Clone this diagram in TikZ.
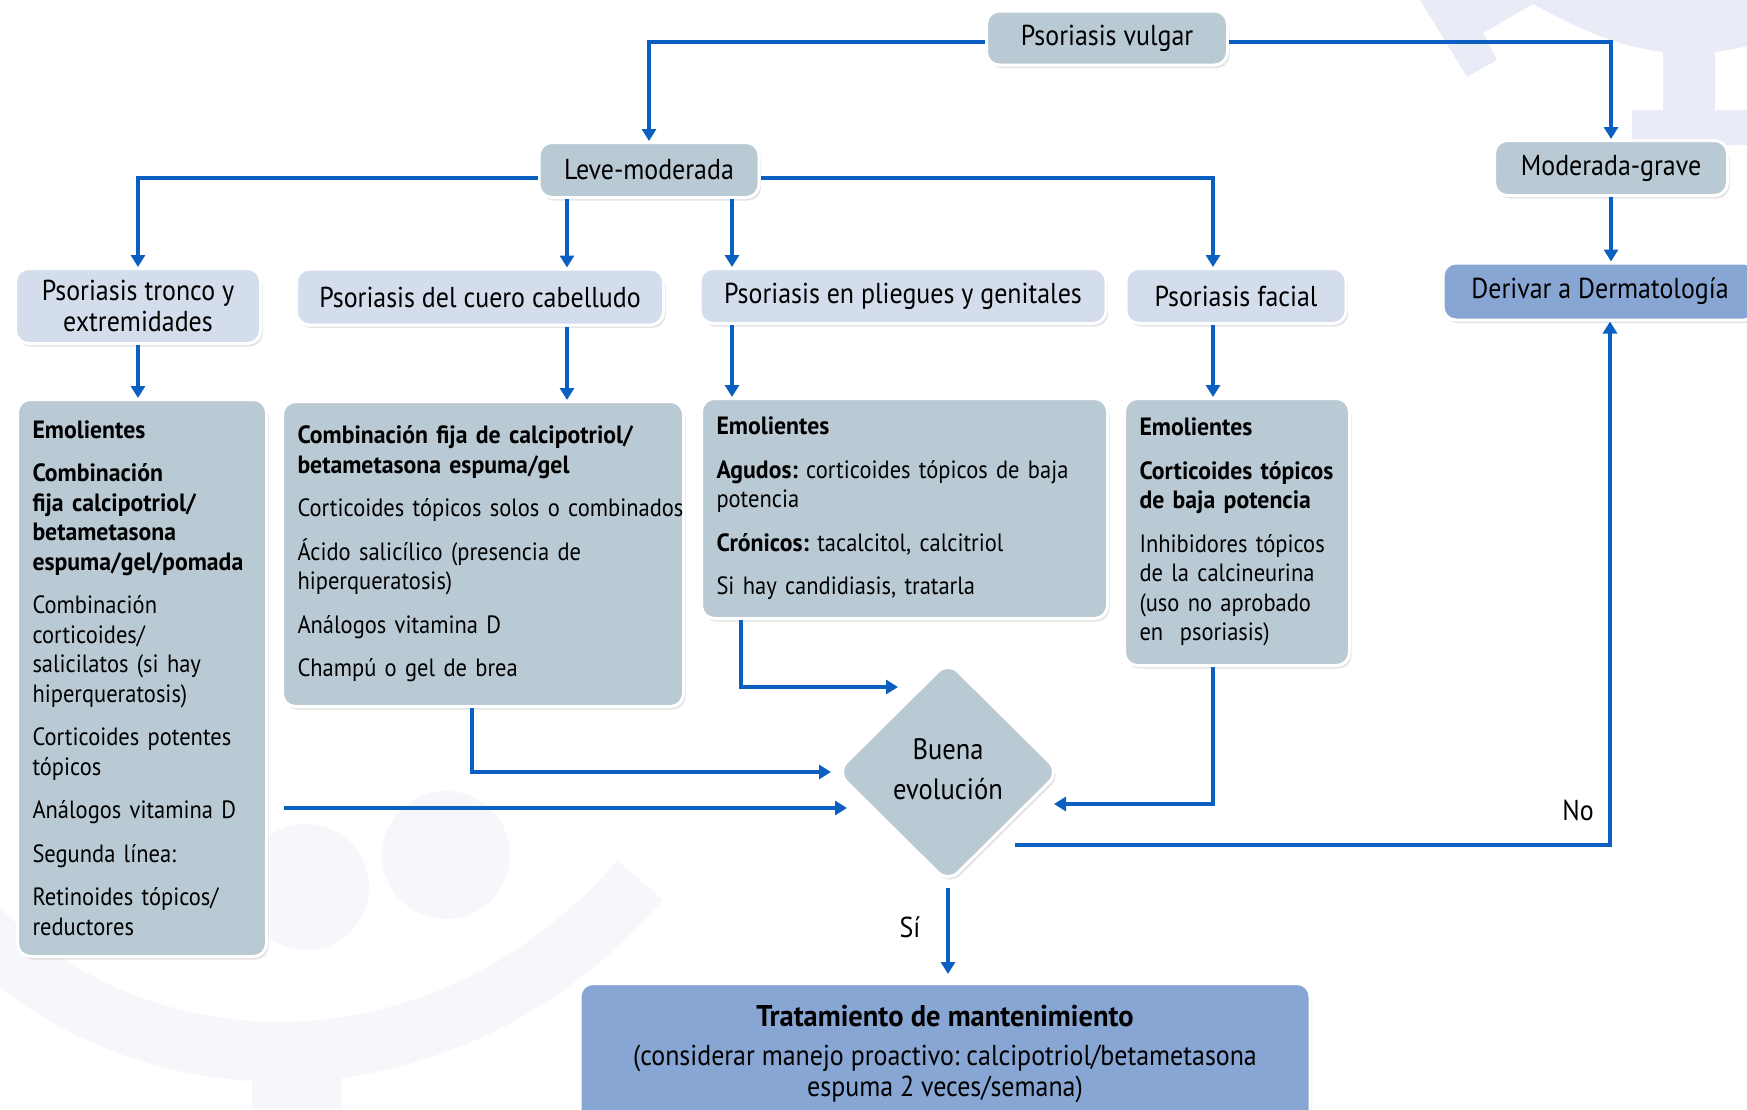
\documentclass[tikz,border=0pt]{standalone}
\usepackage{fontspec}
\setmainfont{PT Sans}[FakeStretch=0.9, BoldFeatures={FakeStretch=0.95}]
\usetikzlibrary{arrows.meta,shapes.geometric,shadows,calc}
\definecolor{lineblue}{HTML}{0B5FC1}
\definecolor{boxgray}{HTML}{B9CAD4}
\definecolor{boxlight}{HTML}{D3DDEB}
\definecolor{boxdark}{HTML}{87A6D3}
\definecolor{wmark}{HTML}{E9ECF6}
\definecolor{wfaint}{HTML}{F6F7FA}
\frenchspacing
\newcommand\nb[1]{\mbox{#1}}
\newcommand\hfont{\fontsize{28.8}{31}\selectfont\frenchspacing}
\newcommand\lfont{\fontsize{25}{29.5}\selectfont\frenchspacing}
\newcommand\tfont{\fontsize{30}{31}\selectfont\bfseries}
\tikzset{
 basebox/.style={draw=white, line width=3pt, rounded corners=13pt,
   drop shadow={shadow xshift=2pt, shadow yshift=-3pt, opacity=0.18, fill=black!60},
   text=black, inner sep=0pt},
 headbox/.style={basebox, fill=boxgray, font=\hfont, align=center},
 subbox/.style={basebox, fill=boxlight, font=\hfont, align=center},
 listbox/.style={basebox, fill=boxgray, font=\lfont, align=left, inner xsep=15pt, anchor=north west},
 darkbox/.style={basebox, fill=boxdark, font=\hfont, align=center},
 conn/.style={draw=lineblue, line width=3.1pt},
 arr/.style={conn, -{Triangle[width=14pt,length=12pt]}},
 lbl/.style={font=\hfont, inner sep=0pt},
}
\begin{document}
\begin{tikzpicture}[x=1pt,y=-1pt]
\useasboundingbox (0,0) rectangle (1747,1109);
\clip (0,0) rectangle (1747,1109);
% watermarks
\fill[wmark] (1420,0) -- (1467,77) -- (1497,60) -- (1483,33) -- (1533,4)
  .. controls (1580,30) and (1620,47) .. (1663,52) -- (1663,110) -- (1632,110)
  -- (1632,145) -- (1747,145) -- (1747,110) -- (1715,110) -- (1715,52)
  .. controls (1728,50) and (1740,48) .. (1747,46) -- (1747,0) -- cycle;
\fill[wfaint] (446,855) circle (64);
\fill[wfaint] (306,887) circle (63);
\draw[wfaint, line width=60pt] (-20,930) .. controls (150,1100) and (450,1100) .. (640,880);
\fill[wfaint] (252,1063) rectangle (342,1109);

% nodes
\node[headbox, minimum width=241, minimum height=54] (vulgar) at (1107,38) {Psoriasis vulgar};
\node[headbox, minimum width=220, minimum height=55] (leve) at (649,170) {Leve-moderada};
\node[headbox, minimum width=233, minimum height=55] (modgrave) at (1611,168) {Moderada-grave};
\node[darkbox, minimum width=314, minimum height=57] (derivar) at (1600,291.5) {Derivar a Dermatología};

\node[subbox, minimum width=245, minimum height=75] (tronco) at (138,306) {Psoriasis tronco y\\extremidades};
\node[subbox, minimum width=367, minimum height=56] (cuero) at (480,297) {Psoriasis del cuero cabelludo};
\node[subbox, minimum width=406, minimum height=55] (pliegues) at (903,296) {Psoriasis en pliegues y genitales};
\node[subbox, minimum width=220, minimum height=55] (facial) at (1236,296) {Psoriasis facial};

\node[listbox, minimum width=249, minimum height=557, text width=219] (trL) at (16,398) {%
\nb{\textbf{Emolientes}}\\[14pt]
\nb{\textbf{Combinación}}\\\nb{\textbf{fija calcipotriol/}}\\\nb{\textbf{betametasona}}\\\nb{\textbf{espuma/gel/pomada}}\\[14pt]
\nb{Combinación}\\\nb{corticoides/}\\\nb{salicilatos (si hay}\\\nb{hiperqueratosis)}\\[14pt]
\nb{Corticoides potentes}\\\nb{tópicos}\\[14pt]
\nb{Análogos vitamina D}\\[14pt]
\nb{Segunda línea:}\\[14pt]
\nb{Retinoides tópicos/}\\\nb{reductores}};

\node[listbox, minimum width=401, minimum height=305, text width=371] (cuL) at (281,400) {%
\nb{\textbf{Combinación fija de calcipotriol/}}\\\nb{\textbf{betametasona espuma/gel}}\\[14pt]
\nb{Corticoides tópicos solos o combinados}\\[14pt]
\nb{Ácido salicílico (presencia de}\\\nb{hiperqueratosis)}\\[14pt]
\nb{Análogos vitamina D}\\[14pt]
\nb{Champú o gel de brea}};

\node[listbox, minimum width=406, minimum height=220, text width=376] (plL) at (700,397) {%
\nb{\textbf{Emolientes}}\\[14pt]
\nb{\textbf{Agudos:} corticoides tópicos de baja}\\\nb{potencia}\\[14pt]
\nb{\textbf{Crónicos:} tacalcitol, calcitriol}\\[14pt]
\nb{Si hay candidiasis, tratarla}};

\node[listbox, minimum width=225, minimum height=267, text width=195] (faL) at (1123,397) {%
\nb{\textbf{Emolientes}}\\[14pt]
\nb{\textbf{Corticoides tópicos}}\\\nb{\textbf{de baja potencia}}\\[14pt]
\nb{Inhibidores tópicos}\\\nb{de la calcineurina}\\\nb{(uso no aprobado}\\\nb{en\ \ psoriasis)}};

\node[basebox, shape=diamond, fill=boxgray, minimum width=224, minimum height=222, rounded corners=14pt,
  font=\fontsize{29.5}{40}\selectfont, align=center] (diam) at (948,772) {\raisebox{5pt}{Buena}\\\raisebox{5pt}{evolución}};

\node[darkbox, minimum width=730, minimum height=140, anchor=north] (trat) at (945,982)
 {{\tfont Tratamiento de mantenimiento}\\[8pt](considerar manejo proactivo: calcipotriol/betametasona\\espuma 2 veces/semana)};

\node[lbl] (no) at (1578,810) {No};
\node[lbl] (si) at (910,927) {Sí};

% helper coordinates
\coordinate (xcu) at (567,0);
\coordinate (xpl) at (732,0);
\coordinate (xfa) at (1213,0);
\coordinate (xpl2) at (741,0);
\coordinate (xcu3) at (472,0);
\coordinate (xno) at (1610,0);
\coordinate (tpl) at (898,687);
\coordinate (tcu) at (831,772);
\coordinate (ttr) at (847,808);
\coordinate (str) at (284,808);
\coordinate (tfa) at (1054,804);
\coordinate (sno) at (1015,845);

% connectors
\draw[arr] ([yshift=-4pt]vulgar.west) -| (leve.north);
\draw[arr] ([yshift=-4pt]vulgar.east) -| (modgrave.north);
\draw[arr] ([yshift=-8pt]leve.west) -| (tronco.north);
\draw[arr] (leve.south -| xcu) -- (cuero.north -| xcu);
\draw[arr] (leve.south -| xpl) -- (pliegues.north -| xpl);
\draw[arr] ([yshift=-8pt]leve.east) -| (facial.north -| xfa);
\draw[arr] (modgrave.south) -- (modgrave.south |- derivar.north);

\draw[arr] (tronco.south) -- (tronco.south |- trL.north);
\draw[arr] (cuero.south -| xcu) -- (cuL.north -| xcu);
\draw[arr] (pliegues.south -| xpl) -- (plL.north -| xpl);
\draw[arr] (facial.south -| xfa) -- (faL.north -| xfa);

\draw[arr] (plL.south -| xpl2) |- (tpl);
\draw[arr] (cuL.south -| xcu3) |- (tcu);
\draw[arr] (str) -- (ttr);
\draw[arr] (faL.south -| xfa) |- (tfa);
\draw[arr] (sno) -| (derivar.south -| xno);
\draw[arr, shorten <=3pt, shorten >=8pt] (diam.south) -- (trat.north -| diam.south);
\end{tikzpicture}
\end{document}
